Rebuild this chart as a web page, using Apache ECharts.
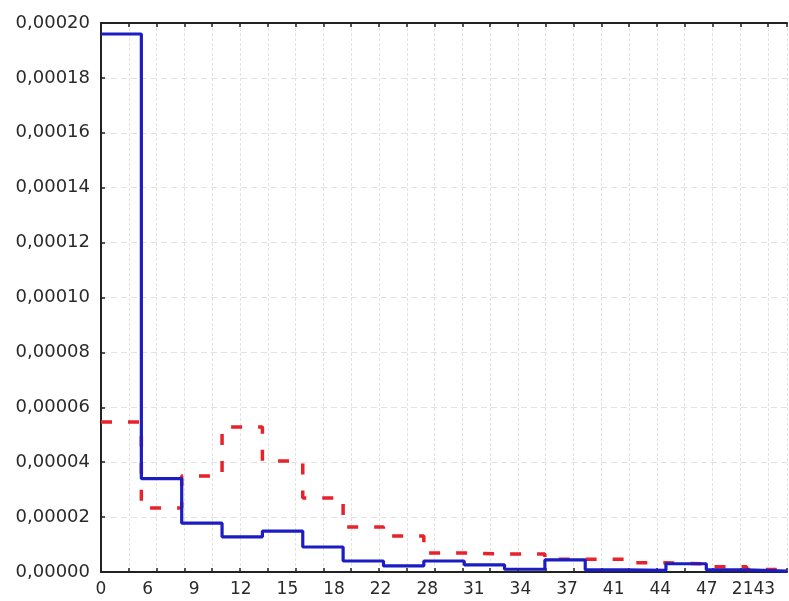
<!DOCTYPE html>
<html>
<head>
<meta charset="utf-8">
<style>
  html, body { margin: 0; padding: 0; background: #fff; }
  #chart { width: 789px; height: 601px; }
</style>
<script src="https://cdn.jsdelivr.net/npm/echarts@6/dist/echarts.min.js"></script>
</head>
<body>
<div id="chart"></div>
<script>
// 17 равных интервалов гистограммы
const binCount = 17;
const blueValues = [
  0.000196, 0.000034, 0.0000178, 0.0000128, 0.0000149, 0.0000091, 0.000004,
  0.0000022, 0.000004, 0.0000026, 0.000001, 0.0000044, 0.0000008, 0.0000006,
  0.000003, 0.0000008, 0.0000003,
];
const redValues = [
  0.0000546, 0.0000233, 0.000035, 0.0000528, 0.0000404, 0.000027, 0.0000164,
  0.0000131, 0.0000069, 0.0000066, 0.0000066, 0.0000046, 0.0000046, 0.0000034,
  0.0000029, 0.0000019, 0.0000009,
];
const xLabels = ["0", "6", "9", "12", "15", "18", "22", "28", "31", "34", "37", "41", "44", "47", "2143"];
const tickCount = 24.68; // мелкие деления сетки по оси X
const labelSpan = 14.72; // шаг подписей по оси X

const toSteps = (vals) => vals.map((v, i) => [i, v]).concat([[vals.length, vals[vals.length - 1]]]);
const fmtY = (v) => v.toFixed(5).replace(".", ",");

const font = "DejaVu Sans";
const axisBlack = { show: true, onZero: false, lineStyle: { color: "#222", width: 2 } };

const chart = echarts.init(document.getElementById("chart"), null, { renderer: "canvas" });
chart.setOption({
  animation: false,
  grid: { left: 101, right: 2, top: 23, bottom: 29 },
  xAxis: [
    { type: "value", min: 0, max: binCount, show: false },
    {
      type: "value", min: 0, max: tickCount, interval: 1, position: "bottom",
      axisLine: axisBlack,
      axisTick: { inside: true, length: 4, lineStyle: { color: "#222", width: 1.5 } },
      axisLabel: { show: false },
      splitLine: { show: true, lineStyle: { color: "#e2e2e2", type: [3, 2], width: 1 } },
    },
    {
      type: "value", min: 0, max: tickCount, interval: 1, position: "top",
      axisLine: axisBlack,
      axisTick: { inside: true, length: 4, lineStyle: { color: "#222", width: 1.5 } },
      axisLabel: { show: false },
      splitLine: { show: false },
    },
    {
      type: "value", min: 0, max: labelSpan, interval: 1, position: "bottom",
      axisLine: { show: false },
      axisTick: { show: false },
      splitLine: { show: false },
      axisLabel: {
        show: true, margin: 9, showMaxLabel: false,
        color: "#2a2a2a", fontFamily: font, fontSize: 17,
        formatter: (v) => xLabels[Math.round(v)] ?? "",
      },
    },
  ],
  yAxis: {
    type: "value", min: 0, max: 0.0002, interval: 0.00002,
    axisLine: axisBlack,
    axisTick: { show: true, inside: true, length: 4, lineStyle: { color: "#222", width: 1.5 } },
    splitLine: { show: true, lineStyle: { color: "#e2e2e2", type: [6, 4], width: 1 } },
    axisLabel: { margin: 11, color: "#2a2a2a", fontFamily: font, fontSize: 18, formatter: fmtY },
  },
  series: [
    {
      type: "line", xAxisIndex: 0, step: "end", data: toSteps(redValues),
      showSymbol: false, z: 3,
      lineStyle: { color: "#e8222b", width: 3.5, type: [11, 16] },
    },
    {
      type: "line", xAxisIndex: 0, step: "end", data: toSteps(blueValues),
      showSymbol: false, z: 4,
      lineStyle: { color: "#1c1cc4", width: 3.2 },
    },
  ],
});
</script>
</body>
</html>
